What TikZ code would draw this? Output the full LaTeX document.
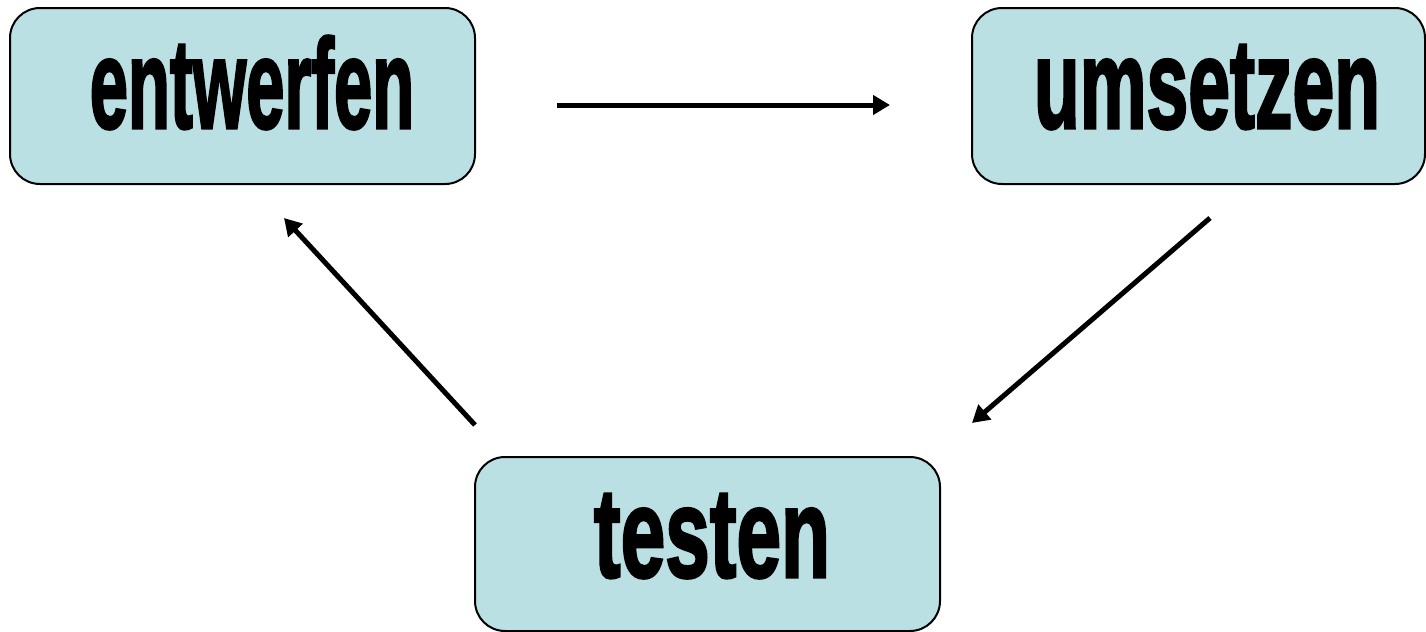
\documentclass[tikz,border=0pt]{standalone}
\usepackage{fontspec}
\setmainfont{Liberation Sans}
\newfontfamily\heavyfont{Liberation Sans Bold}[FakeBold=2.5]
\usetikzlibrary{arrows.meta}
\definecolor{boxfill}{RGB}{186,224,227}
\tikzset{
  stagebox/.style={draw=black, line width=1pt, fill=boxfill, rounded corners=15pt, inner sep=0pt},
  lbl/.style={anchor=base, inner sep=0pt, font=\heavyfont\bfseries\fontsize{63.6}{70}\selectfont},
  flow/.style={line width=2.5pt, -{Triangle[length=8.5pt,width=9.5pt]}}
}
\begin{document}
\begin{tikzpicture}[x=0.5pt,y=-0.5pt]
\useasboundingbox (0,0) rectangle (1426,632);
\node[stagebox, minimum width=232.5pt, minimum height=88pt] (b1) at (242.5,96) {};
\node[stagebox, minimum width=226.5pt, minimum height=88pt] (b2) at (1198.5,96) {};
\node[stagebox, minimum width=232.5pt, minimum height=87pt] (b3) at (707.5,544) {};
\node[lbl] (t1) at (252,128) {\scalebox{0.54}[1]{entwerfen}};
\node[lbl] (t2) at (1207,128) {\scalebox{0.59}[1]{umsetzen}};
\node[lbl] (t3) at (712,577) {\scalebox{0.63}[1]{testen}};
\coordinate (a1s) at (557,105);
\coordinate (a1e) at (890,105);
\coordinate (a2s) at (1210,218);
\coordinate (a2e) at (972,423);
\coordinate (a3s) at (475,425);
\coordinate (a3e) at (284,218);
\draw[flow] (a1s) -- (a1e);
\draw[flow] (a2s) -- (a2e);
\draw[flow] (a3s) -- (a3e);
\end{tikzpicture}
\end{document}
